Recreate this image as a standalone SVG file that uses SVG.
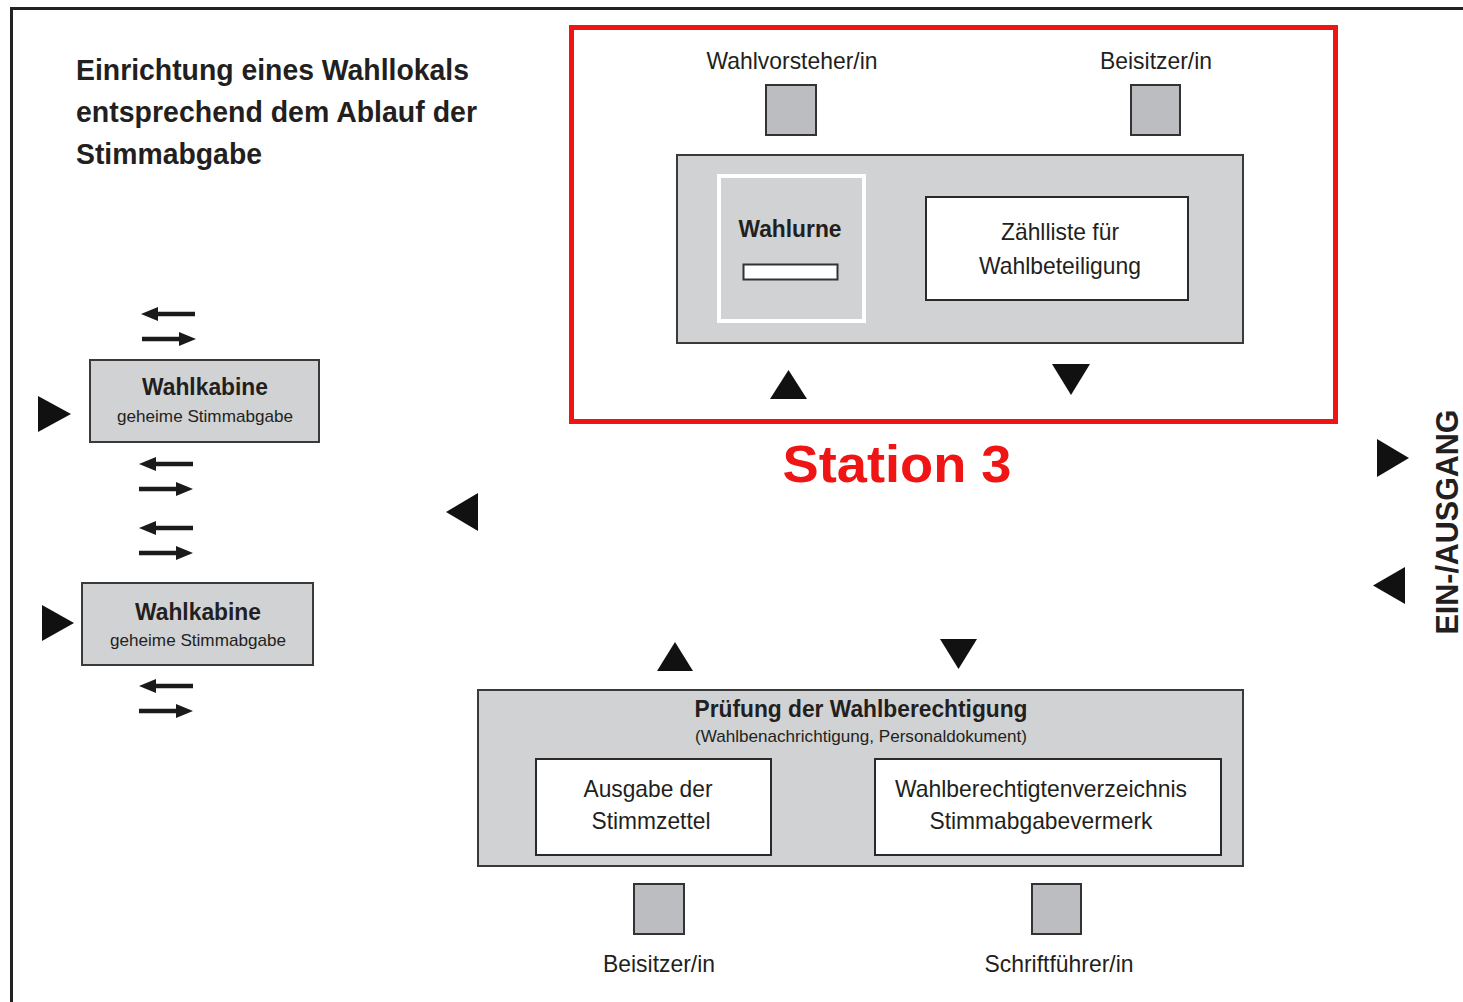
<svg xmlns="http://www.w3.org/2000/svg" xmlns:xlink="http://www.w3.org/1999/xlink" width="1463" height="1002" viewBox="0 0 1463 1002">
<style>
.t{font-family:"Liberation Sans Narrow","Liberation Sans",Arial,sans-serif;fill:#231f20}
.b{font-weight:bold}
.grey{fill:#d1d2d4;stroke:#3a3a3a;stroke-width:2}
.wbox{fill:#fff;stroke:#2a2a2a;stroke-width:2}
.sq{fill:#bcbdc0;stroke:#333;stroke-width:2}
.tri{fill:#111}
</style>
<defs>
<path id="arrL" d="M0,0 L17,-7 L17,-2.2 L54,-2.2 L54,2.2 L17,2.2 L17,7 Z" fill="#1a1a1a"/>
<path id="arrR" d="M54,0 L37,-7 L37,-2.2 L0,-2.2 L0,2.2 L37,2.2 L37,7 Z" fill="#1a1a1a"/>
</defs>
<rect width="1463" height="1002" fill="#fff"/>
<path d="M11.5,1002 V8.5 H1463" fill="none" stroke="#222" stroke-width="3"/>

<g id="title">
<text class="t" x="76" y="80" font-size="30" font-weight="bold" textLength="393" lengthAdjust="spacingAndGlyphs">Einrichtung eines Wahllokals</text>
<text class="t" x="76" y="122" font-size="30" font-weight="bold" textLength="401" lengthAdjust="spacingAndGlyphs">entsprechend dem Ablauf der</text>
<text class="t" x="76" y="164" font-size="30" font-weight="bold" textLength="186" lengthAdjust="spacingAndGlyphs">Stimmabgabe</text>
</g>

<g id="station3">
<rect x="571.5" y="27.5" width="764" height="394" fill="none" stroke="#f01515" stroke-width="5"/>
<text x="897" y="482" font-family="Liberation Sans,Arial,sans-serif" font-weight="bold" font-size="52" fill="#f01515" text-anchor="middle" textLength="229" lengthAdjust="spacingAndGlyphs">Station 3</text>
</g>

<g id="wahlvorsteher">
<text class="t" x="792" y="69" font-size="24" text-anchor="middle" textLength="171" lengthAdjust="spacingAndGlyphs">Wahlvorsteher/in</text>
<rect class="sq" x="766" y="85" width="50" height="50"/>
</g>
<g id="beisitzer-top">
<text class="t" x="1156" y="69" font-size="24" text-anchor="middle" textLength="112" lengthAdjust="spacingAndGlyphs">Beisitzer/in</text>
<rect class="sq" x="1131" y="85" width="49" height="50"/>
</g>

<g id="urnentisch">
<rect class="grey" x="677" y="155" width="566" height="188"/>
</g>
<g id="wahlurne">
<rect x="719" y="176" width="145" height="145" fill="#d1d2d4" stroke="#fff" stroke-width="4"/>
<text class="t b" x="790" y="237" font-size="24" text-anchor="middle" textLength="103" lengthAdjust="spacingAndGlyphs">Wahlurne</text>
<rect x="743.5" y="264.5" width="94" height="15" fill="#fff" stroke="#333" stroke-width="2"/>
</g>
<g id="zaehlliste">
<rect class="wbox" x="926" y="197" width="262" height="103"/>
<text class="t" x="1060" y="240" font-size="24" text-anchor="middle" textLength="118" lengthAdjust="spacingAndGlyphs">Zählliste für</text>
<text class="t" x="1060" y="274" font-size="24" text-anchor="middle" textLength="162" lengthAdjust="spacingAndGlyphs">Wahlbeteiligung</text>
</g>

<g id="wahlkabine1">
<rect class="grey" x="90" y="360" width="229" height="82"/>
<text class="t b" x="205" y="395" font-size="24" text-anchor="middle" textLength="126" lengthAdjust="spacingAndGlyphs">Wahlkabine</text>
<text class="t" x="205" y="422" font-size="17" text-anchor="middle" textLength="176" lengthAdjust="spacingAndGlyphs">geheime Stimmabgabe</text>
</g>
<g id="wahlkabine2">
<rect class="grey" x="82" y="583" width="231" height="82"/>
<text class="t b" x="198" y="620" font-size="24" text-anchor="middle" textLength="126" lengthAdjust="spacingAndGlyphs">Wahlkabine</text>
<text class="t" x="198" y="646" font-size="17" text-anchor="middle" textLength="176" lengthAdjust="spacingAndGlyphs">geheime Stimmabgabe</text>
</g>

<g id="pruefung">
<rect class="grey" x="478" y="690" width="765" height="176"/>
<text class="t b" x="861" y="717" font-size="24" text-anchor="middle" textLength="333" lengthAdjust="spacingAndGlyphs">Prüfung der Wahlberechtigung</text>
<text class="t" x="861" y="742" font-size="17" text-anchor="middle" textLength="332" lengthAdjust="spacingAndGlyphs">(Wahlbenachrichtigung, Personaldokument)</text>
</g>
<g id="ausgabe">
<rect class="wbox" x="536" y="759" width="235" height="96"/>
<text class="t" x="648" y="797" font-size="24" text-anchor="middle" textLength="129" lengthAdjust="spacingAndGlyphs">Ausgabe der</text>
<text class="t" x="651" y="829" font-size="24" text-anchor="middle" textLength="119" lengthAdjust="spacingAndGlyphs">Stimmzettel</text>
</g>
<g id="verzeichnis">
<rect class="wbox" x="875" y="759" width="346" height="96"/>
<text class="t" x="1041" y="797" font-size="24" text-anchor="middle" textLength="292" lengthAdjust="spacingAndGlyphs">Wahlberechtigtenverzeichnis</text>
<text class="t" x="1041" y="829" font-size="24" text-anchor="middle" textLength="223" lengthAdjust="spacingAndGlyphs">Stimmabgabevermerk</text>
</g>
<g id="beisitzer-bottom">
<rect class="sq" x="634" y="884" width="50" height="50"/>
<text class="t" x="659" y="972" font-size="24" text-anchor="middle" textLength="112" lengthAdjust="spacingAndGlyphs">Beisitzer/in</text>
</g>
<g id="schriftfuehrer">
<rect class="sq" x="1032" y="884" width="49" height="50"/>
<text class="t" x="1059" y="972" font-size="24" text-anchor="middle" textLength="149" lengthAdjust="spacingAndGlyphs">Schriftführer/in</text>
</g>

<g id="eingang">
<text class="t b" transform="translate(1458,522) rotate(-90)" x="0" y="0" font-size="31" text-anchor="middle" textLength="225" lengthAdjust="spacingAndGlyphs">EIN-/AUSGANG</text>
</g>

<g id="connectors">
<polygon class="tri" points="770,399 807,399 788.5,370"/>
<polygon class="tri" points="1052,364 1090,364 1071,395"/>
<polygon class="tri" points="38,396 38,432 71,414"/>
<polygon class="tri" points="42,605 42,641 74,623"/>
<polygon class="tri" points="478,493 478,531 446,512"/>
<polygon class="tri" points="1377,439 1377,477 1409,458"/>
<polygon class="tri" points="1405,567 1405,604 1373,585.5"/>
<polygon class="tri" points="657,671 693,671 675,642"/>
<polygon class="tri" points="940,639 977,639 958.5,669"/>
<use xlink:href="#arrL" x="141" y="314"/>
<use xlink:href="#arrR" x="142" y="339"/>
<use xlink:href="#arrL" x="139" y="464"/>
<use xlink:href="#arrR" x="139" y="489"/>
<use xlink:href="#arrL" x="139" y="528"/>
<use xlink:href="#arrR" x="139" y="553"/>
<use xlink:href="#arrL" x="139" y="686"/>
<use xlink:href="#arrR" x="139" y="711"/>
</g>
</svg>
